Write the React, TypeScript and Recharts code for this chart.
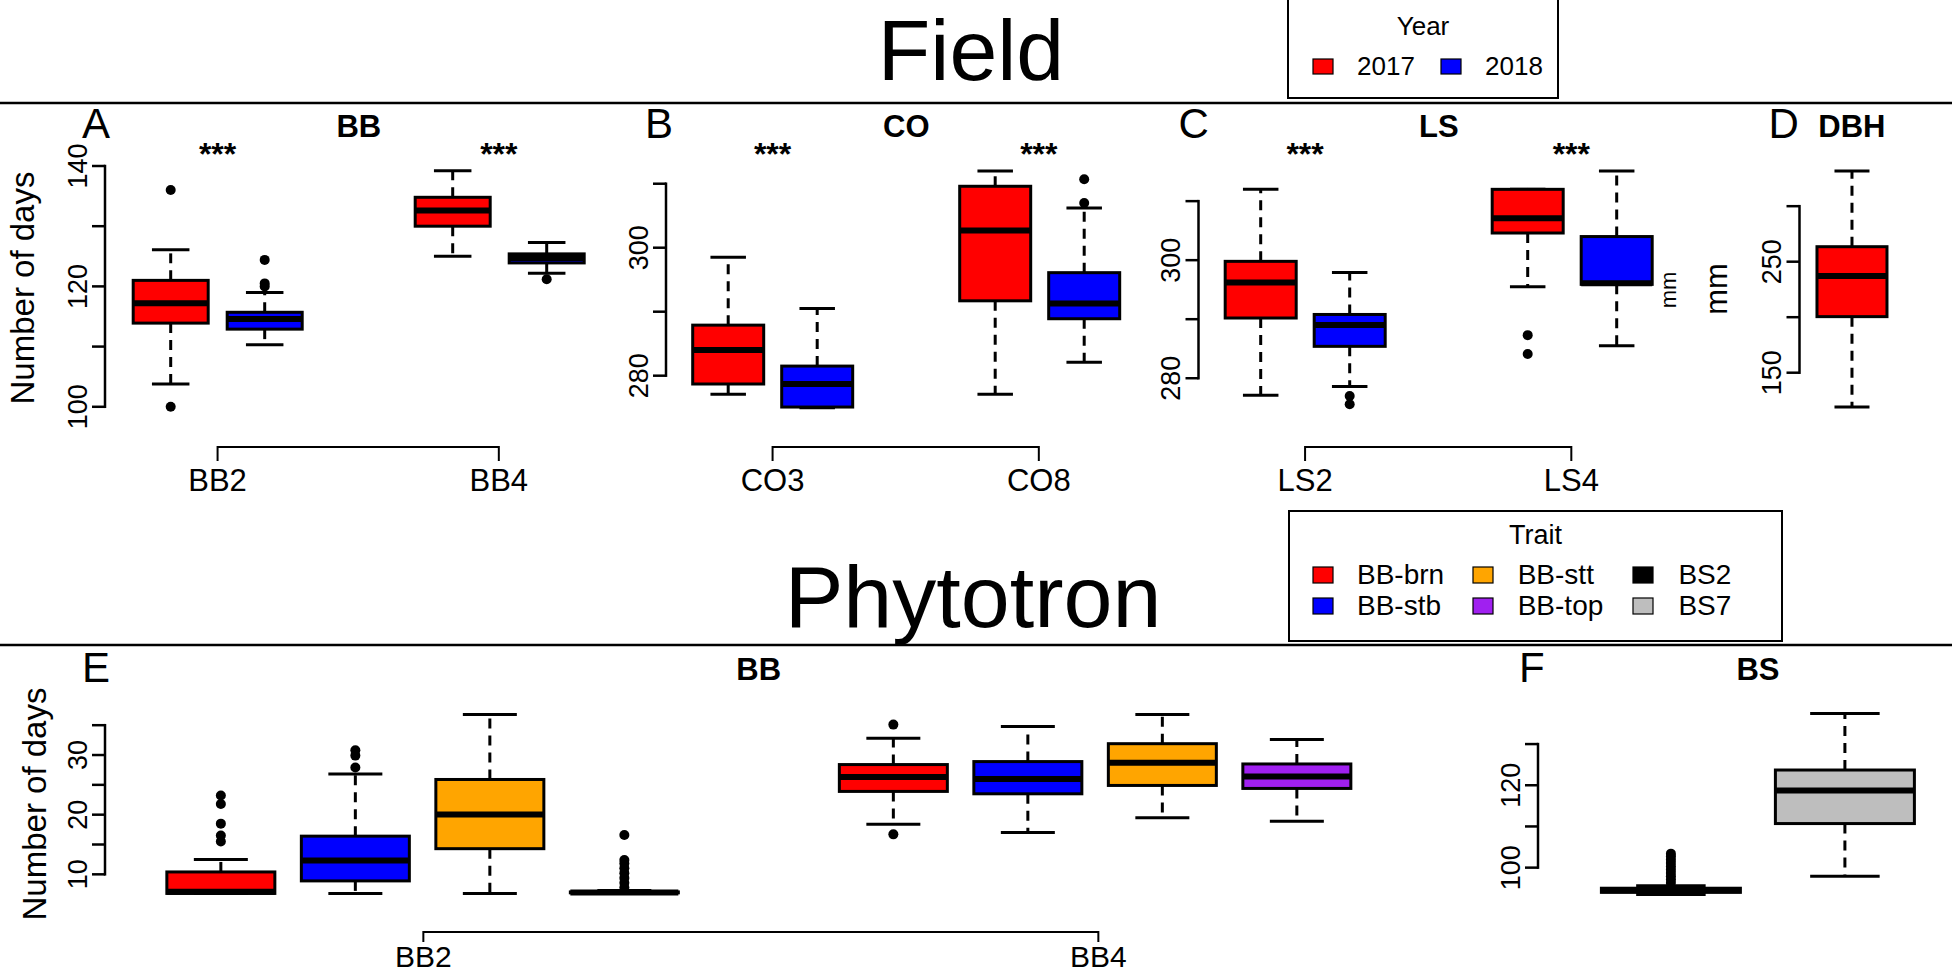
import React from 'react';
import { ComposedChart, Bar, XAxis, YAxis } from 'recharts';

const FONT = '"Liberation Sans", Arial, Helvetica, sans-serif';

// ---------- legend / palette ----------
const YEARS = ['2017', '2018'];
const YEAR_COLORS = ['#FF0000', '#0000FF'];
const TRAITS = ['BB-brn', 'BB-stb', 'BB-stt', 'BB-top', 'BS2', 'BS7'];
const TRAIT_COLORS = ['#FF0000', '#0000FF', '#FFA500', '#A020F0', '#000000', '#BEBEBE'];

// ---------- Panel A : BB (field) ----------
const A_GROUP = ['BB2', 'BB2', '', 'BB4', 'BB4'];
const A_KEY = ['2017', '2018', '', '2017', '2018'];
const A_POS = [1, 2, 3, 4, 5];
const A_LOW = [103.8, 110.3, null, 125.0, 122.2];
const A_Q1 = [113.9, 112.9, null, 130.0, 123.9];
const A_MED = [117.2, 114.6, null, 132.6, 124.7];
const A_Q3 = [121.0, 115.7, null, 134.8, 125.4];
const A_HIGH = [126.1, 119.0, null, 139.2, 127.3];
const A_OUT = [[136.0, 100.0], [124.4, 120.0, 120.5], [], [], [121.2]];
const A_GROUP_LABELS = ['BB2', 'BB4'];
const A_GROUP_POS = [1.5, 4.5];
const A_SIG = ['***', '***'];
const A_TICKS = [100, 110, 120, 130, 140];
const A_TICK_LABELS = [100, 120, 140];

// ---------- Panel B : CO ----------
const B_GROUP = ['CO3', 'CO3', '', 'CO8', 'CO8'];
const B_KEY = ['2017', '2018', '', '2017', '2018'];
const B_POS = [1, 2, 3, 4, 5];
const B_LOW = [277.1, 275.0, null, 277.1, 282.1];
const B_Q1 = [278.7, 275.1, null, 291.7, 288.9];
const B_MED = [284.0, 278.7, null, 302.7, 291.3];
const B_Q3 = [287.9, 281.5, null, 309.6, 296.1];
const B_HIGH = [298.5, 290.5, null, 312.0, 306.2];
const B_OUT = [[], [], [], [], [310.7, 307.0]];
const B_GROUP_LABELS = ['CO3', 'CO8'];
const B_GROUP_POS = [1.5, 4.5];
const B_SIG = ['***', '***'];
const B_TICKS = [280, 290, 300, 310];
const B_TICK_LABELS = [280, 300];

// ---------- Panel C : LS ----------
const C_GROUP = ['LS2', 'LS2', '', 'LS4', 'LS4'];
const C_KEY = ['2017', '2018', '', '2017', '2018'];
const C_POS = [1, 2, 3, 4, 5];
const C_LOW = [277.1, 278.6, null, 295.5, 285.5];
const C_Q1 = [290.2, 285.4, null, 304.6, 295.9];
const C_MED = [296.2, 289.0, null, 307.1, 296.1];
const C_Q3 = [299.8, 290.8, null, 312.0, 304.0];
const C_HIGH = [312.0, 297.9, null, 312.0, 315.1];
const C_OUT = [[], [277.0, 275.6], [], [287.3, 284.1], []];
const C_GROUP_LABELS = ['LS2', 'LS4'];
const C_GROUP_POS = [1.5, 4.5];
const C_SIG = ['***', '***'];
const C_TICKS = [280, 290, 300, 310];
const C_TICK_LABELS = [280, 300];

// ---------- Panel D : DBH ----------
const D_GROUP = ['DBH'];
const D_KEY = ['2017'];
const D_POS = [1];
const D_LOW = [119.0];
const D_Q1 = [200.5];
const D_MED = [237.0];
const D_Q3 = [263.5];
const D_HIGH = [331.7];
const D_OUT: number[][] = [[]];
const D_TICKS = [150, 200, 250, 300];
const D_TICK_LABELS = [150, 250];

// ---------- Panel E : BB (phytotron) ----------
const E_GROUP = ['BB2', 'BB2', 'BB2', 'BB2', '', 'BB4', 'BB4', 'BB4', 'BB4'];
const E_KEY = ['BB-brn', 'BB-stb', 'BB-stt', 'BB-top', '', 'BB-brn', 'BB-stb', 'BB-stt', 'BB-top'];
const E_POS = [1, 2, 3, 4, 5, 6, 7, 8, 9];
const E_LOW = [6.8, 6.8, 6.8, 6.9, null, 18.4, 17.0, 19.5, 18.9];
const E_Q1 = [6.8, 8.9, 14.3, 6.9, null, 23.9, 23.5, 24.9, 24.4];
const E_MED = [7.1, 12.3, 20.05, 6.95, null, 26.3, 26.0, 28.7, 26.4];
const E_Q3 = [10.4, 16.4, 25.9, 7.05, null, 28.4, 28.9, 31.9, 28.5];
const E_HIGH = [12.5, 26.8, 36.8, 7.3, null, 32.8, 34.8, 36.8, 32.6];
const E_OUT = [
  [15.5, 16.5, 18.5, 21.8, 23.2],
  [27.9, 29.9, 30.8],
  [],
  [7.8, 8.6, 9.4, 10.2, 11.0, 11.8, 12.4, 16.6],
  [],
  [35.1, 16.7],
  [],
  [],
  [],
];
const E_GROUP_LABELS = ['BB2', 'BB4'];
const E_GROUP_POS = [2.5, 7.5];
const E_TICKS = [10, 15, 20, 25, 30, 35];
const E_TICK_LABELS = [10, 20, 30];

// ---------- Panel F : BS ----------
const F_GROUP = ['BS', 'BS'];
const F_KEY = ['BS2', 'BS7'];
const F_POS = [1, 2];
const F_LOW = [93.5, 97.9];
const F_Q1 = [94.0, 110.7];
const F_MED = [94.5, 118.7];
const F_Q3 = [95.0, 123.7];
const F_HIGH = [95.6, 137.4];
const F_OUT = [[96.3, 97.1, 97.9, 98.7, 99.5, 100.3, 101.1, 101.9, 102.7, 103.4], []];
const F_TICKS = [100, 110, 120, 130];
const F_TICK_LABELS = [100, 120];

// ---------- types & builders ----------
type Row = {
  name: string;
  pos: number;
  color: string;
  lo: number | null;
  q1: number | null;
  med: number | null;
  q3: number | null;
  hi: number | null;
  out: number[];
  range: [number, number] | null;
};

type Mark = { label: string; pos: number };

type PanelSpec = {
  id: string;
  rows: Row[];
  domain: [number, number];
  ticks: number[];
  tickLabels: number[];
  left: number;
  top: number;
  height: number;
  marginTop: number;
  marginBottom: number;
  axisWidth: number;
  band: number;
  pad: number;
  gapFrac: number;
  groups: Mark[];
  sig: Mark[];
  bracketLabelDy: number;
  bracketFont: number;
  bracketTick: number;
  letter: string;
  letterDx: number;
  letterY: number;
  title: string;
  titleY: number;
};

function colorFor(key: string): string {
  const yi = YEARS.indexOf(key);
  if (yi >= 0) return YEAR_COLORS[yi];
  const ti = TRAITS.indexOf(key);
  if (ti >= 0) return TRAIT_COLORS[ti];
  return '#ffffff';
}

function buildRows(
  groups: string[],
  keys: string[],
  pos: number[],
  lo: (number | null)[],
  q1: (number | null)[],
  med: (number | null)[],
  q3: (number | null)[],
  hi: (number | null)[],
  out: number[][]
): Row[] {
  return groups.map((g, i) => {
    const has = med[i] != null;
    const vals = has ? [lo[i] as number, hi[i] as number, ...out[i]] : [];
    return {
      name: has ? `${g} ${keys[i]}` : `gap${i}`,
      pos: pos[i],
      color: colorFor(keys[i]),
      lo: lo[i],
      q1: q1[i],
      med: med[i],
      q3: q3[i],
      hi: hi[i],
      out: out[i],
      range: has ? [Math.min(...vals), Math.max(...vals)] : null,
    };
  });
}

function marks(labels: string[], pos: number[]): Mark[] {
  return labels.map((l, i) => ({ label: l, pos: pos[i] }));
}

const TOP = { top: 0, height: 500, marginTop: 161, marginBottom: 84, letterY: 138, titleY: 137, bracketLabelDy: 44, bracketFont: 31, bracketTick: 14 };
const BOT = { top: 600, height: 372, marginTop: 107, marginBottom: 71, letterY: 682, titleY: 680, bracketLabelDy: 35, bracketFont: 30, bracketTick: 10 };

const PANELS: PanelSpec[] = [
  {
    id: 'A', ...TOP,
    rows: buildRows(A_GROUP, A_KEY, A_POS, A_LOW, A_Q1, A_MED, A_Q3, A_HIGH, A_OUT),
    domain: [98.47, 140.83], ticks: A_TICKS, tickLabels: A_TICK_LABELS,
    left: 0, axisWidth: 105, band: 94, pad: 18.8, gapFrac: 0.1,
    groups: marks(A_GROUP_LABELS, A_GROUP_POS), sig: marks(A_SIG, A_GROUP_POS),
    letter: 'A', letterDx: -23, title: 'BB',
  },
  {
    id: 'B', ...TOP,
    rows: buildRows(B_GROUP, B_KEY, B_POS, B_LOW, B_Q1, B_MED, B_Q3, B_HIGH, B_OUT),
    domain: [273.7, 313.55], ticks: B_TICKS, tickLabels: B_TICK_LABELS,
    left: 620, axisWidth: 46, band: 89, pad: 17.8, gapFrac: 0.1,
    groups: marks(B_GROUP_LABELS, B_GROUP_POS), sig: marks(B_SIG, B_GROUP_POS),
    letter: 'B', letterDx: -21, title: 'CO',
  },
  {
    id: 'C', ...TOP,
    rows: buildRows(C_GROUP, C_KEY, C_POS, C_LOW, C_Q1, C_MED, C_Q3, C_HIGH, C_OUT),
    domain: [273.6, 316.8], ticks: C_TICKS, tickLabels: C_TICK_LABELS,
    left: 1150, axisWidth: 48.5, band: 89, pad: 17.8, gapFrac: 0.1,
    groups: marks(C_GROUP_LABELS, C_GROUP_POS), sig: marks(C_SIG, C_GROUP_POS),
    letter: 'C', letterDx: -20, title: 'LS',
  },
  {
    id: 'D', ...TOP,
    rows: buildRows(D_GROUP, D_KEY, D_POS, D_LOW, D_Q1, D_MED, D_Q3, D_HIGH, D_OUT),
    domain: [111, 340.7], ticks: D_TICKS, tickLabels: D_TICK_LABELS,
    left: 1750, axisWidth: 49.5, band: 97, pad: 3.9, gapFrac: 0.14,
    groups: [], sig: [],
    letter: 'D', letterDx: -31, title: 'DBH',
  },
  {
    id: 'E', ...BOT,
    rows: buildRows(E_GROUP, E_KEY, E_POS, E_LOW, E_Q1, E_MED, E_Q3, E_HIGH, E_OUT),
    domain: [5.53, 38.05], ticks: E_TICKS, tickLabels: E_TICK_LABELS,
    left: 0, axisWidth: 105, band: 134.5, pad: 48.4, gapFrac: 0.1,
    groups: marks(E_GROUP_LABELS, E_GROUP_POS), sig: [],
    letter: 'E', letterDx: -23, title: 'BB',
  },
  {
    id: 'F', ...BOT,
    rows: buildRows(F_GROUP, F_KEY, F_POS, F_LOW, F_Q1, F_MED, F_Q3, F_HIGH, F_OUT),
    domain: [91.9, 139.0], ticks: F_TICKS, tickLabels: F_TICK_LABELS,
    left: 1490, axisWidth: 48, band: 174, pad: 46, gapFrac: 0.1,
    groups: [], sig: [],
    letter: 'F', letterDx: -19, title: 'BS',
  },
];

const plotWidth = (s: PanelSpec) => s.rows.length * s.band + 2 * s.pad;

// ---------- renderers ----------
function renderBox(props: any, spec: PanelSpec) {
  const { x, y, width, height, payload } = props;
  const r: Row | undefined = payload;
  if (!r || r.med == null || !r.range || !Number.isFinite(y) || !Number.isFinite(height)) return <g />;
  const [lo, hi] = r.range;
  const yTop = Math.min(y, y + height);
  const yBot = Math.max(y, y + height);
  const span = hi - lo || 1;
  const py = (v: number) => yBot - ((v - lo) / span) * (yBot - yTop);
  const cx = x + width / 2;
  const band = width / (1 - 2 * spec.gapFrac);
  const capHalf = width / 4;
  const yq1 = py(r.q1 as number);
  const yq3 = py(r.q3 as number);
  const ymed = py(r.med as number);
  const ylo = py(r.lo as number);
  const yhi = py(r.hi as number);

  const ann: React.ReactNode[] = [];
  if (r.pos === spec.rows[0].pos) {
    const plotTop = py(spec.domain[1]);
    const plotBot = py(spec.domain[0]);
    spec.sig.forEach((s, i) => {
      ann.push(
        <text key={`s${i}`} x={cx + (s.pos - r.pos) * band} y={plotTop + 4} textAnchor="middle"
          fontFamily={FONT} fontWeight="bold" fontSize={32} fill="#000">{s.label}</text>
      );
    });
    if (spec.groups.length) {
      const xs = spec.groups.map((g) => cx + (g.pos - r.pos) * band);
      const yb = plotBot + 31;
      ann.push(<line key="bl" x1={xs[0]} x2={xs[xs.length - 1]} y1={yb} y2={yb} stroke="#000" strokeWidth={2} />);
      spec.groups.forEach((g, i) => {
        ann.push(<line key={`bt${i}`} x1={xs[i]} x2={xs[i]} y1={yb - 1} y2={yb + spec.bracketTick} stroke="#000" strokeWidth={2} />);
        ann.push(
          <text key={`bx${i}`} x={xs[i]} y={yb + spec.bracketLabelDy} textAnchor="middle"
            fontFamily={FONT} fontSize={spec.bracketFont} fill="#000">{g.label}</text>
        );
      });
    }
  }

  return (
    <g>
      <line x1={cx} x2={cx} y1={yq3} y2={yhi} stroke="#000" strokeWidth={3} strokeDasharray="10 7" />
      <line x1={cx} x2={cx} y1={yq1} y2={ylo} stroke="#000" strokeWidth={3} strokeDasharray="10 7" />
      <line x1={cx - capHalf} x2={cx + capHalf} y1={yhi} y2={yhi} stroke="#000" strokeWidth={3} />
      <line x1={cx - capHalf} x2={cx + capHalf} y1={ylo} y2={ylo} stroke="#000" strokeWidth={3} />
      <rect x={x} y={yq3} width={width} height={Math.max(yq1 - yq3, 0.5)} fill={r.color} stroke="#000" strokeWidth={3} />
      <line x1={x} x2={x + width} y1={ymed} y2={ymed} stroke="#000" strokeWidth={6} />
      {r.out.map((v, i) => (
        <circle key={i} cx={cx} cy={py(v)} r={5} fill="#000" />
      ))}
      {ann}
    </g>
  );
}

function renderYTick(props: any, spec: PanelSpec) {
  const { x, y, payload, height } = props;
  const v = payload ? payload.value : null;
  const minT = Math.min(...spec.ticks);
  const maxT = Math.max(...spec.ticks);
  const ppu = Number(height) / (spec.domain[1] - spec.domain[0]);
  return (
    <g>
      <line x1={x - 13} x2={x} y1={y} y2={y} stroke="#000" strokeWidth={2.5} />
      {spec.tickLabels.includes(v) && (
        <text transform={`translate(${x - 18} ${y}) rotate(-90)`} textAnchor="middle"
          fontFamily={FONT} fontSize={27} fill="#000">{v}</text>
      )}
      {v === minT && Number.isFinite(ppu) && (
        <line x1={x} x2={x} y1={y + 1.25} y2={y - (maxT - minT) * ppu - 1.25} stroke="#000" strokeWidth={2.5} />
      )}
    </g>
  );
}

function Panel({ spec }: { spec: PanelSpec }) {
  const pw = plotWidth(spec);
  const width = spec.axisWidth + pw;
  return (
    <div style={{ position: 'absolute', left: spec.left, top: spec.top, width, height: spec.height }}>
      <ComposedChart
        width={width}
        height={spec.height}
        data={spec.rows}
        margin={{ top: spec.marginTop, right: 0, bottom: spec.marginBottom, left: 0 }}
        barCategoryGap={`${spec.gapFrac * 100}%`}
        style={{ overflow: 'visible' }}
      >
        <XAxis dataKey="name" type="category" hide padding={{ left: spec.pad, right: spec.pad }} />
        <YAxis
          type="number"
          domain={spec.domain}
          ticks={spec.ticks}
          interval={0}
          width={spec.axisWidth}
          axisLine={false}
          tickLine={false}
          tickSize={0}
          tickMargin={0}
          tick={(p: any) => renderYTick(p, spec)}
        />
        <Bar dataKey="range" isAnimationActive={false} shape={(p: any) => renderBox(p, spec)} />
      </ComposedChart>
    </div>
  );
}

function Overlay() {
  const T = (p: any) => <text fontFamily={FONT} fill="#000" {...p} />;
  return (
    <svg width={1952} height={972} style={{ position: 'absolute', left: 0, top: 0 }}>
      <line x1={0} x2={1952} y1={103} y2={103} stroke="#000" strokeWidth={2.4} />
      <line x1={0} x2={1952} y1={645} y2={645} stroke="#000" strokeWidth={2.4} />
      <T x={971} y={80} fontSize={86} textAnchor="middle">Field</T>
      <T x={973} y={627} fontSize={88} textAnchor="middle">Phytotron</T>

      {PANELS.map((s) => {
        const ax = s.left + s.axisWidth;
        const cx = ax + plotWidth(s) / 2;
        return (
          <g key={s.id}>
            <T x={ax + s.letterDx} y={s.letterY} fontSize={42}>{s.letter}</T>
            <T x={cx} y={s.titleY} fontSize={31} fontWeight="bold" textAnchor="middle">{s.title}</T>
          </g>
        );
      })}

      <T transform="translate(34 288) rotate(-90)" fontSize={33} textAnchor="middle">Number of days</T>
      <T transform="translate(46 804) rotate(-90)" fontSize={33} textAnchor="middle">Number of days</T>
      <T transform="translate(1727 289) rotate(-90)" fontSize={31} textAnchor="middle">mm</T>
      <T transform="translate(1676 290) rotate(-90)" fontSize={22} textAnchor="middle">mm</T>

      {/* Year legend */}
      <rect x={1288} y={-2} width={270} height={100} fill="none" stroke="#000" strokeWidth={2} />
      <T x={1423} y={35} fontSize={26} textAnchor="middle">Year</T>
      {YEARS.map((yName, i) => (
        <g key={yName}>
          <rect x={1313 + i * 128} y={59} width={20} height={15} fill={YEAR_COLORS[i]} stroke="#000" strokeWidth={1.2} />
          <T x={1357 + i * 128} y={75} fontSize={26}>{yName}</T>
        </g>
      ))}

      {/* Trait legend */}
      <rect x={1289} y={511} width={493} height={130} fill="none" stroke="#000" strokeWidth={2} />
      <T x={1535.5} y={544} fontSize={27} textAnchor="middle">Trait</T>
      {TRAITS.map((t, i) => {
        const col = Math.floor(i / 2);
        const row = i % 2;
        const base = 584 + row * 31;
        return (
          <g key={t}>
            <rect x={1313 + col * 160} y={base - 17} width={20} height={16} fill={TRAIT_COLORS[i]} stroke="#000" strokeWidth={1.2} />
            <T x={1357 + col * 160.7} y={base} fontSize={28}>{t}</T>
          </g>
        );
      })}
    </svg>
  );
}

export default function App() {
  return (
    <div style={{ position: 'absolute', left: 0, top: 0, width: 1952, height: 972, overflow: 'hidden', background: '#fff' }}>
      <Overlay />
      {PANELS.map((s) => (
        <Panel key={s.id} spec={s} />
      ))}
    </div>
  );
}
